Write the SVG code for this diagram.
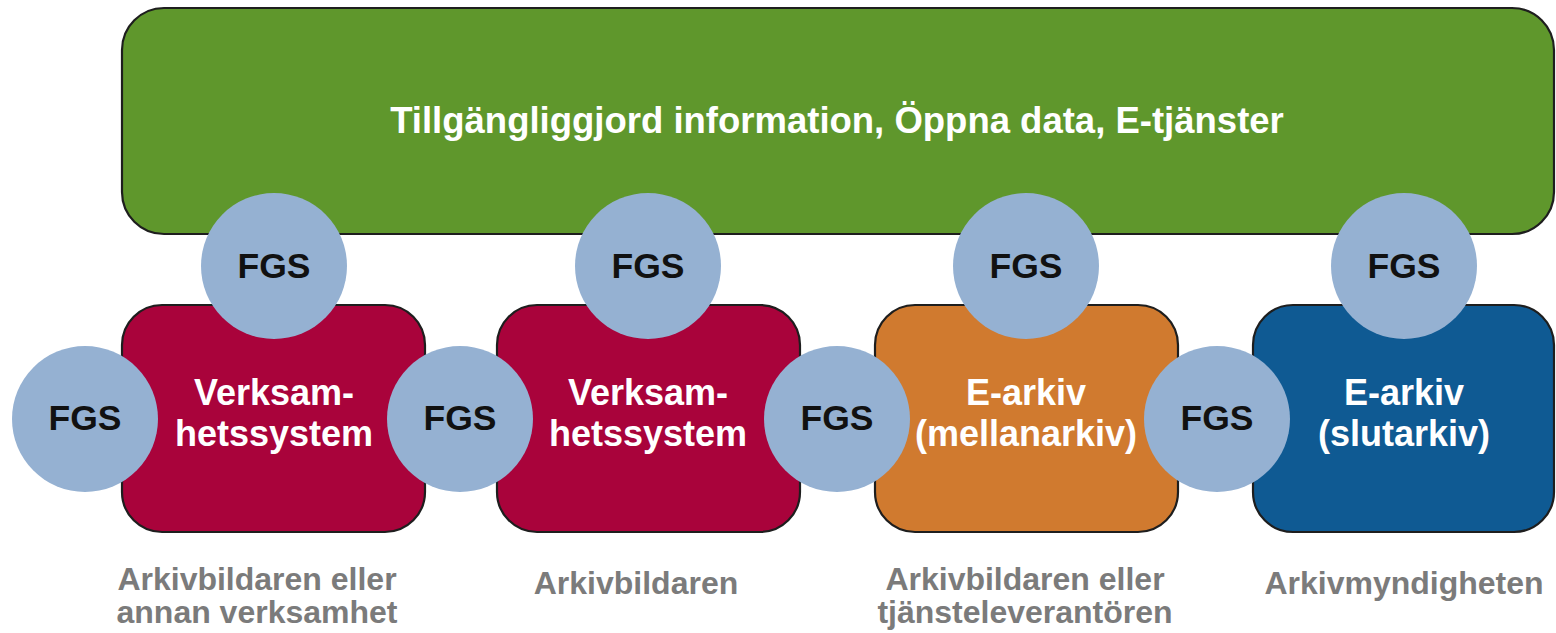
<svg xmlns="http://www.w3.org/2000/svg" width="1556" height="633" viewBox="0 0 1556 633">
<style>
.box{stroke:#1e1e1e;stroke-width:2.2}
.green{fill:#5f972c}
.red{fill:#a9033b}
.orange{fill:#d07a2f}
.blue{fill:#0f5a93}
.fgs{fill:#95b1d2}
text{font-family:"Liberation Sans",Arial,sans-serif;font-weight:bold;text-anchor:middle}
.title{fill:#ffffff;font-size:36.5px}
.lbl{fill:#ffffff;font-size:36px}
.fgst{fill:#111111;font-size:35.5px}
.sub{fill:#7b7b7b;font-size:32px}
</style>
<rect width="1556" height="633" fill="#ffffff"/>
<g id="top">
<rect class="box green" x="122" y="8" width="1432" height="226" rx="42"/>
<text class="title" x="837" y="133">Tillgängliggjord information, Öppna data, E-tjänster</text>
</g>
<g id="vs1">
<rect class="box red" x="122" y="305" width="303" height="227" rx="40"/>
<text class="lbl" x="274" y="405">Verksam-</text>
<text class="lbl" x="274" y="446">hetssystem</text>
</g>
<g id="vs2">
<rect class="box red" x="497" y="305" width="303" height="227" rx="40"/>
<text class="lbl" x="648" y="405">Verksam-</text>
<text class="lbl" x="648" y="446">hetssystem</text>
</g>
<g id="mellanarkiv">
<rect class="box orange" x="875" y="305" width="303" height="227" rx="40"/>
<text class="lbl" x="1026" y="405">E-arkiv</text>
<text class="lbl" x="1026" y="446">(mellanarkiv)</text>
</g>
<g id="slutarkiv">
<rect class="box blue" x="1253" y="305" width="301" height="227" rx="40"/>
<text class="lbl" x="1404" y="405">E-arkiv</text>
<text class="lbl" x="1404" y="446">(slutarkiv)</text>
</g>
<g id="fgs-top1"><circle class="fgs" cx="274" cy="266" r="73"/><text class="fgst" x="274" y="278">FGS</text></g>
<g id="fgs-top2"><circle class="fgs" cx="648" cy="266" r="73"/><text class="fgst" x="648" y="278">FGS</text></g>
<g id="fgs-top3"><circle class="fgs" cx="1026" cy="266" r="73"/><text class="fgst" x="1026" y="278">FGS</text></g>
<g id="fgs-top4"><circle class="fgs" cx="1404" cy="266" r="73"/><text class="fgst" x="1404" y="278">FGS</text></g>
<g id="fgs-side1"><circle class="fgs" cx="85" cy="419" r="73"/><text class="fgst" x="85" y="430">FGS</text></g>
<g id="fgs-side2"><circle class="fgs" cx="460" cy="419" r="73"/><text class="fgst" x="460" y="430">FGS</text></g>
<g id="fgs-side3"><circle class="fgs" cx="837" cy="419" r="73"/><text class="fgst" x="837" y="430">FGS</text></g>
<g id="fgs-side4"><circle class="fgs" cx="1217" cy="419" r="73"/><text class="fgst" x="1217" y="430">FGS</text></g>
<g id="label1">
<text class="sub" x="257" y="590">Arkivbildaren eller</text>
<text class="sub" x="257" y="623">annan verksamhet</text>
</g>
<g id="label2"><text class="sub" x="636" y="594">Arkivbildaren</text></g>
<g id="label3">
<text class="sub" x="1025" y="590">Arkivbildaren eller</text>
<text class="sub" x="1025" y="623">tjänsteleverantören</text>
</g>
<g id="label4"><text class="sub" x="1404" y="594">Arkivmyndigheten</text></g>
</svg>
